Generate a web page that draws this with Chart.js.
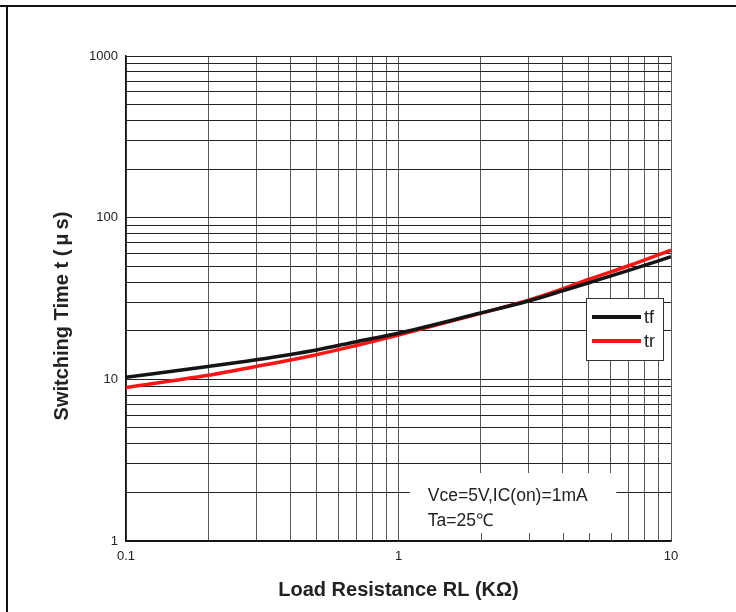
<!DOCTYPE html>
<html>
<head>
<meta charset="utf-8">
<script src="https://cdn.jsdelivr.net/npm/chart.js@4"></script>
<style>
  html, body { margin: 0; padding: 0; background: #fff; }
  #wrap { width: 736px; height: 612px; position: relative; }
</style>
</head>
<body>
<div id="wrap"><canvas id="chart" width="736" height="612"></canvas></div>
<script>
// Load resistance RL (kOhm) and switching times (us)
const resistance = [0.1, 0.2, 0.3, 0.5, 0.7, 1, 2, 3, 4, 5, 7, 10];
const tfValues = [10.3, 12.0, 13.2, 15.2, 17.1, 19.3, 25.7, 30.5, 35.3, 39.6, 47.2, 57.3];
const trValues = [8.9, 10.6, 12.0, 14.2, 16.2, 18.8, 25.6, 30.9, 36.3, 41.6, 50.4, 63.0];

// grid lines (every 1..9 in a decade) and the labelled decades
const xGrid = [0.1, 0.2, 0.3, 0.4, 0.5, 0.6, 0.7, 0.8, 0.9, 1, 2, 3, 4, 5, 6, 7, 8, 9, 10];
const yGrid = [1, 2, 3, 4, 5, 6, 7, 8, 9, 10, 20, 30, 40, 50, 60, 70, 80, 90,
  100, 200, 300, 400, 500, 600, 700, 800, 900, 1000];
const xTickLabels = ['0.1', '1', '10'];
const yTickLabels = ['1', '10', '100', '1000'];

const FONT = '"Liberation Sans", Arial, Helvetica, sans-serif';

const decorations = {
  id: 'decorations',
  beforeDatasetsDraw(chart) {
    // white note box sitting over the grid
    const { ctx, scales: { x, y }, chartArea: a } = chart;
    const l = x.getPixelForValue(1.1), r = x.getPixelForValue(6.3);
    const t = y.getPixelForValue(2.63), b = a.bottom - 1;
    ctx.save();
    ctx.fillStyle = '#fff';
    ctx.fillRect(l, t, r - l, b - t);
    // small inward ticks on the bottom axis
    ctx.strokeStyle = '#5a5a5a';
    ctx.lineWidth = 1;
    xGrid.forEach(v => {
      const px = Math.round(x.getPixelForValue(v)) + 0.5;
      if (px > l && px < r) {
        ctx.beginPath();
        ctx.moveTo(px, a.bottom);
        ctx.lineTo(px, a.bottom - 8);
        ctx.stroke();
      }
    });
    ctx.fillStyle = '#222';
    ctx.font = '17.5px ' + FONT;
    ctx.textBaseline = 'alphabetic';
    ctx.fillText('Vce=5V,IC(on)=1mA', l + 18, 501);
    ctx.fillText('Ta=25\u2103', l + 18, 526);
    ctx.restore();
  },
  afterDatasetsDraw(chart) {
    // legend box
    const { ctx } = chart;
    const bx = 586, by = 298, bw = 77, bh = 62;
    ctx.save();
    ctx.fillStyle = '#fff';
    ctx.fillRect(bx, by, bw, bh);
    ctx.strokeStyle = '#333';
    ctx.lineWidth = 1;
    ctx.strokeRect(bx + 0.5, by + 0.5, bw, bh);
    const items = [['tf', '#141414', 317], ['tr', '#ff1414', 341]];
    ctx.font = '18px ' + FONT;
    ctx.textBaseline = 'middle';
    items.forEach(([label, color, ly]) => {
      ctx.strokeStyle = color;
      ctx.lineWidth = 4;
      ctx.beginPath();
      ctx.moveTo(592, ly);
      ctx.lineTo(641, ly);
      ctx.stroke();
      ctx.fillStyle = '#222';
      ctx.fillText(label, 644, ly + 1);
    });
    ctx.restore();
  },
  afterDraw(chart) {
    const { ctx, chartArea: a } = chart;
    ctx.save();
    // outer frame
    ctx.fillStyle = '#111';
    ctx.fillRect(0, 5, 736, 2);
    ctx.fillRect(6, 5, 2, 607);
    // axis titles
    ctx.fillStyle = '#222';
    ctx.font = 'bold 20px ' + FONT;
    ctx.textAlign = 'center';
    ctx.textBaseline = 'middle';
    ctx.fillText('Load Resistance RL (K\u03A9)', (a.left + a.right) / 2, 590);
    ctx.translate(62, 316);
    ctx.rotate(-Math.PI / 2);
    ctx.fillText('Switching Time t (\u2009\u03BC\u2009s)', 0, 0);
    ctx.restore();
  }
};

function logAxis(grid, labels, color) {
  return {
    type: 'logarithmic',
    min: grid[0],
    max: grid[grid.length - 1],
    afterBuildTicks: scale => { scale.ticks = grid.map(v => ({ value: v })); },
    grid: { color: color, lineWidth: 1, drawTicks: false },
    border: { display: true, color: '#111', width: 1.5 },
    ticks: {
      autoSkip: false,
      maxRotation: 0,
      color: '#222',
      font: { family: FONT, size: 13 },
      callback: v => {
        const s = String(v);
        return labels.includes(s) ? s : '';
      }
    }
  };
}

const xAxis = logAxis(xGrid, xTickLabels, '#5a5a5a');
xAxis.ticks.padding = 8;
xAxis.afterFit = scale => { scale.height = 71; };
const yAxis = logAxis(yGrid, yTickLabels, '#222');
yAxis.ticks.padding = 8;
yAxis.afterFit = scale => { scale.width = 126; };

new Chart(document.getElementById('chart'), {
  type: 'line',
  data: {
    labels: resistance,
    datasets: [
      {
        label: 'tf',
        data: resistance.map((r, i) => ({ x: r, y: tfValues[i] })),
        borderColor: '#141414',
        borderWidth: 3.5,
        pointRadius: 0,
        cubicInterpolationMode: 'monotone'
      },
      {
        label: 'tr',
        data: resistance.map((r, i) => ({ x: r, y: trValues[i] })),
        borderColor: '#ff1414',
        borderWidth: 3.5,
        pointRadius: 0,
        cubicInterpolationMode: 'monotone'
      }
    ]
  },
  options: {
    responsive: false,
    animation: false,
    layout: { padding: { left: 0, top: 56, right: 65, bottom: 0 } },
    plugins: {
      legend: { display: false },
      tooltip: { enabled: false }
    },
    scales: { x: xAxis, y: yAxis }
  },
  plugins: [decorations]
});
</script>
</body>
</html>
